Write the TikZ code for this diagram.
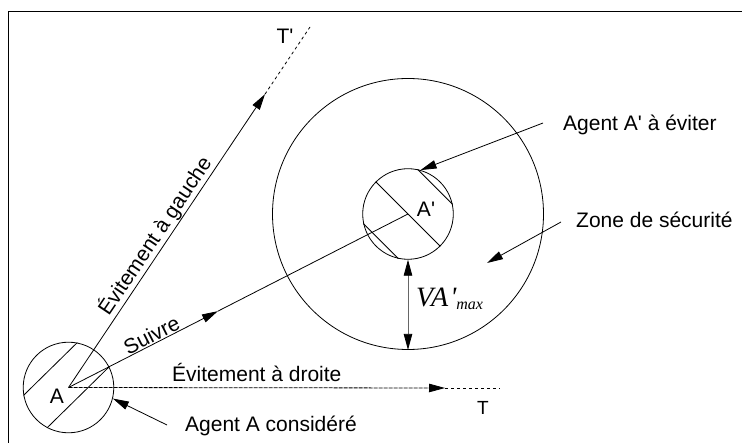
\documentclass[tikz,border=0pt]{standalone}
\usepackage{fontspec}
\setmainfont{Liberation Sans}
\newfontfamily\tmsfont{Liberation Serif}
\usetikzlibrary{arrows.meta,calc}
\begin{document}
\begin{tikzpicture}[x=1pt,y=-1pt,
  every node/.style={font=\fontsize{21}{25}\selectfont},
  ln/.style={line width=0.8pt},
  tip/.style={-{Triangle[length=16pt,width=8.5pt]}},
  lbl/.style={inner sep=0pt},
  sparse/.style={dash pattern=on 3pt off 3pt},
  dense/.style={dash pattern=on 4pt off 1pt},
  agent/.style={circle,draw,line width=0.8pt,inner sep=0pt}]
\useasboundingbox (0,0) rectangle (742,443);
\draw[line width=1pt] (8,443) -- (8,12) -- (742,12);

% circles
\node[agent, minimum size=90.6pt] (cA) at (68.5,387.5) {};
\node[agent, minimum size=90.6pt] (cAp) at (408,214) {};
\node[agent, minimum size=271pt] (cZ) at (408,214) {};

% hatching
\draw[ln] (cA.79.6) -- (cA.190.4);
\draw[ln] (cA.242.6) -- (cA.27.4);
\draw[ln] (cAp.135) -- (cAp.315);
\draw[ln] (cAp.12) -- (cAp.78);
\draw[ln] (cAp.192) -- (cAp.258);

% labels in circles
\node[lbl] (lA) at (57,396) {A};
\node[lbl] (lAp) at (426,209) {A\textquotesingle};

% trajectories
\coordinate (A) at (cA.center);
\coordinate (Tp) at (310,27);
\coordinate (G) at ($(A)!0.8137!(Tp)$);
\coordinate (S) at ($(A)!0.44!(cAp.center)$);
\coordinate (D) at (445,388);
\coordinate (Te) at (500,388);

\draw[ln,tip] (A) -- (G);
\draw[ln,sparse] (G) -- (Tp);
\draw[ln,tip] (A) -- (S);
\draw[ln] (S) -- (cAp.center);
\draw[ln,dense,tip] (A) -- (D);
\draw[ln,sparse] (D) -- (Te);

\node[lbl] (lTp) at (285,36) {T\textquotesingle};
\node[lbl,font=\fontsize{19}{23}\selectfont] (lT) at (483,408) {T};

\node[lbl, rotate=56.1] (lG) at (155,236) {Évitement à gauche};
\node[lbl, rotate=27.1] (lS) at (151.5,335) {Suivre};
\node[lbl, anchor=base west] (lD) at (172,382) {Évitement à droite};

% callouts
\node[lbl, anchor=base west] (tAc) at (185,432) {Agent A considéré};
\coordinate (tAc0) at (167,425);
\draw[ln,tip] (tAc0) -- (cA.-14.5);

\node[lbl, anchor=base west] (tAp) at (563,131) {Agent A\textquotesingle{} à éviter};
\coordinate (tAp0) at (543,123);
\draw[ln,tip] (tAp0) -- (cAp.74.4);

\node[lbl, anchor=base west] (tZ) at (576,228) {Zone de sécurité};
\coordinate (tZ0) at (561,222);
\coordinate (tZ1) at (487,263);
\draw[ln,tip] (tZ0) -- (tZ1);

% VA'max
\draw[line width=0.8pt, draw=black!60,
  {Triangle[length=16pt,width=8.5pt,color=black]}-{Triangle[length=16pt,width=8.5pt,color=black]}]
  (cAp.south) -- (cZ.south);
\node[lbl, anchor=base west] (lV) at (416,307)
  {\tmsfont\itshape\fontsize{28}{30}\selectfont VA\hspace{2pt}\textquotesingle\raisebox{-3pt}{\fontsize{16}{18}\selectfont max}};
\end{tikzpicture}
\end{document}
